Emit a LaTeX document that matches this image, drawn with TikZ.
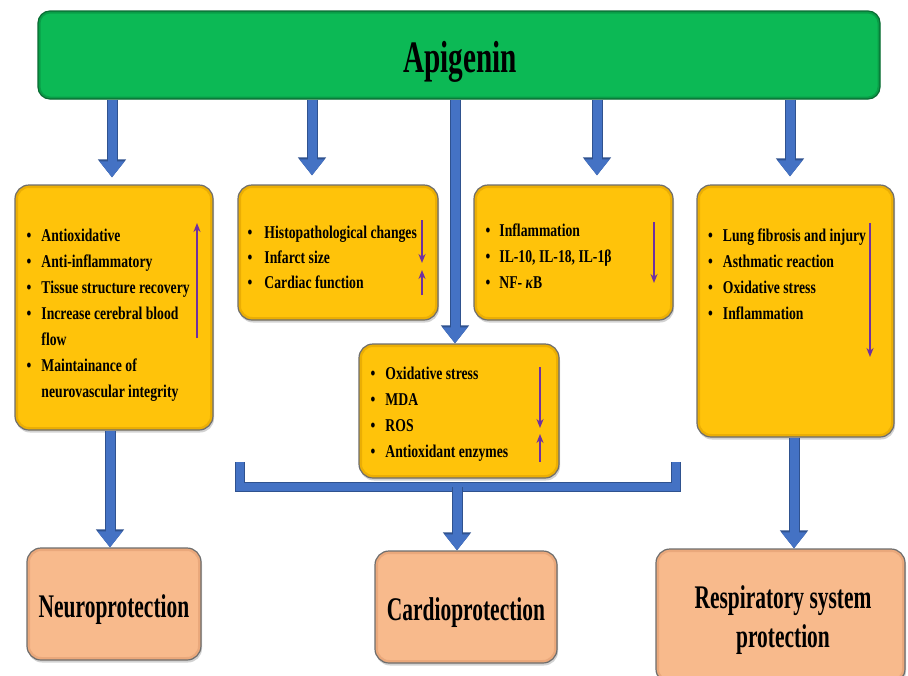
\documentclass[tikz,border=0pt]{standalone}
\usepackage{fontspec}
\setmainfont[FakeStretch=0.76]{Liberation Serif}
\newfontfamily\condfont[FakeStretch=0.65]{Liberation Serif}
\usetikzlibrary{arrows.meta,shadows}
\definecolor{gbar}{HTML}{0CB955}
\definecolor{gborder}{HTML}{0A6B33}
\definecolor{grim}{HTML}{08873D}
\definecolor{yfill}{HTML}{FFC30A}
\definecolor{yrim}{HTML}{D99B00}
\definecolor{boxline}{HTML}{6E6E6E}
\definecolor{pfill}{HTML}{F8BA8C}
\definecolor{prim}{HTML}{D99468}
\definecolor{ablue}{HTML}{4472C4}
\definecolor{adark}{HTML}{2F528F}
\definecolor{apurp}{HTML}{7030A0}
\begin{document}
\begin{tikzpicture}[x=1pt,y=-1pt,
  greenbar/.style={draw=gborder, line width=1.2pt, fill=gbar, rounded corners=12pt,
    minimum width=842pt, minimum height=88pt, inner sep=0pt,
    path picture={\draw[grim, line width=5pt, opacity=0.55, rounded corners=12pt]
      (path picture bounding box.south west) rectangle (path picture bounding box.north east);}},
  yellowbox/.style={draw=boxline, line width=1.2pt, fill=yfill, rounded corners=14pt, inner sep=0pt,
    drop shadow={shadow xshift=1pt, shadow yshift=-2.5pt, opacity=0.35},
    path picture={\draw[yrim, line width=6pt, opacity=0.5, rounded corners=14pt]
      (path picture bounding box.south west) rectangle (path picture bounding box.north east);}},
  peachbox/.style={draw=boxline, line width=1.2pt, fill=pfill, rounded corners=14pt, inner sep=0pt,
    drop shadow={shadow xshift=1pt, shadow yshift=-2.5pt, opacity=0.35},
    path picture={\draw[prim, line width=6pt, opacity=0.45, rounded corners=14pt]
      (path picture bounding box.south west) rectangle (path picture bounding box.north east);}},
  bigtext/.style={anchor=base, inner sep=0pt, align=center, font=\condfont\bfseries\fontsize{33}{39}\selectfont},
  titletext/.style={anchor=base, inner sep=0pt, font=\condfont\bfseries\fontsize{45}{50}\selectfont},
  bullets/.style={anchor=base west, inner sep=0pt, font=\bfseries\fontsize{18}{26}\selectfont},
  bluearrow/.style={draw=ablue, line width=9pt, -{Triangle[width=24pt,length=16pt]},
    preaction={draw=adark, line width=11pt, -{Triangle[width=27pt,length=18pt]}}},
  bluebar/.style={draw=ablue, line width=8pt, line join=miter,
    preaction={draw=adark, line width=10pt}},
  purparrow/.style={draw=apurp, line width=1.7pt, -{Stealth[width=7pt,length=9pt]}},
]
\useasboundingbox (0,0) rectangle (908,675);
\clip (0,0) rectangle (908,675);
\fill[white] (0,0) rectangle (908,675);

% top bar
\node[greenbar] (g) at (459,55) {};
\node[titletext] (gt) at (460,72) {Apigenin};

% yellow boxes
\node[yellowbox, minimum width=198pt, minimum height=245pt] (b1) at (114,307.5) {};
\node[yellowbox, minimum width=200pt, minimum height=135pt] (b2) at (338,252.5) {};
\node[yellowbox, minimum width=199pt, minimum height=135pt] (b3) at (573.5,252.5) {};
\node[yellowbox, minimum width=197pt, minimum height=252pt] (b4) at (795.5,311) {};
\node[yellowbox, minimum width=200pt, minimum height=134pt] (b5) at (459,411) {};

% bottom boxes
\node[peachbox, minimum width=174pt, minimum height=112pt] (p1) at (114,604) {};
\node[peachbox, minimum width=182pt, minimum height=112pt] (p2) at (466,607) {};
\node[peachbox, minimum width=249pt, minimum height=134pt] (p3) at (780.5,616) {};
\node[bigtext] (pt1) at (114,617) {Neuroprotection};
\node[bigtext] (pt2) at (466,620) {Cardioprotection};
\node[bigtext] (pt3) at (783,608) {Respiratory system};
\node[bigtext] (pt4) at (783,647) {protection};

% texts in yellow boxes
\node[bullets] (t1) at (26.5,241) {\begin{tabular}[t]{@{}l@{\hspace{10pt}}l@{}}
\textbullet & Antioxidative\\
\textbullet & Anti-inflammatory\\
\textbullet & Tissue structure recovery\\
\textbullet & Increase cerebral blood\\
 & flow\\
\textbullet & Maintainance of\\
 & neurovascular integrity
\end{tabular}};
\node[bullets, font=\bfseries\fontsize{18}{25}\selectfont] (t2) at (247.5,238) {\begin{tabular}[t]{@{}l@{\hspace{12pt}}l@{}}
\textbullet & Histopathological changes\\
\textbullet & Infarct size\\
\textbullet & Cardiac function
\end{tabular}};
\node[bullets] (t3) at (485.5,236) {\begin{tabular}[t]{@{}l@{\hspace{9pt}}l@{}}
\textbullet & Inflammation\\
\textbullet & IL-10, IL-18, IL-1β\\
\textbullet & NF- \textit{κ}B
\end{tabular}};
\node[bullets] (t4) at (708,241) {\begin{tabular}[t]{@{}l@{\hspace{10pt}}l@{}}
\textbullet & Lung fibrosis and injury\\
\textbullet & Asthmatic reaction\\
\textbullet & Oxidative stress\\
\textbullet & Inflammation
\end{tabular}};
\node[bullets] (t5) at (370.5,379) {\begin{tabular}[t]{@{}l@{\hspace{10pt}}l@{}}
\textbullet & Oxidative stress\\
\textbullet & MDA\\
\textbullet & ROS\\
\textbullet & Antioxidant enzymes
\end{tabular}};

% purple indicator arrows
\draw[purparrow] (197,338) -- (197,223);
\draw[purparrow] (422,220) -- (422,263);
\draw[purparrow] (422,295) -- (422,270);
\draw[purparrow] (654,222) -- (654,283);
\draw[purparrow] (870,223) -- (870,357);
\draw[purparrow] (540,367) -- (540,428);
\draw[purparrow] (540,462) -- (540,434);

% blue connectors
\coordinate (a1) at (112,0);
\coordinate (a2) at (312,0);
\coordinate (a3) at (455,0);
\coordinate (a4) at (597,0);
\coordinate (a5) at (790,0);
\coordinate (a6) at (110,0);
\coordinate (a7) at (794,0);
\draw[bluearrow, shorten >=7pt] (g.south -| a1) -- (b1.north -| a1);
\draw[bluearrow, shorten >=9pt] (g.south -| a2) -- (b2.north -| a2);
\draw[bluearrow] (g.south -| a3) -- (b5.north -| a3);
\draw[bluearrow, shorten >=9pt] (g.south -| a4) -- (b3.north -| a4);
\draw[bluearrow, shorten >=8pt] (g.south -| a5) -- (b4.north -| a5);
\draw[bluearrow] (b1.south -| a6) -- (p1.north -| a6);
\draw[bluearrow] (b4.south -| a7) -- (p3.north -| a7);

\coordinate (bl) at (240,462);
\coordinate (bm) at (457,487);
\coordinate (br) at (676,462);
\draw[bluebar] (bl) |- (bm) -| (br);
\draw[bluearrow] (bm) -- (p2.north -| bm);
\end{tikzpicture}
\end{document}
